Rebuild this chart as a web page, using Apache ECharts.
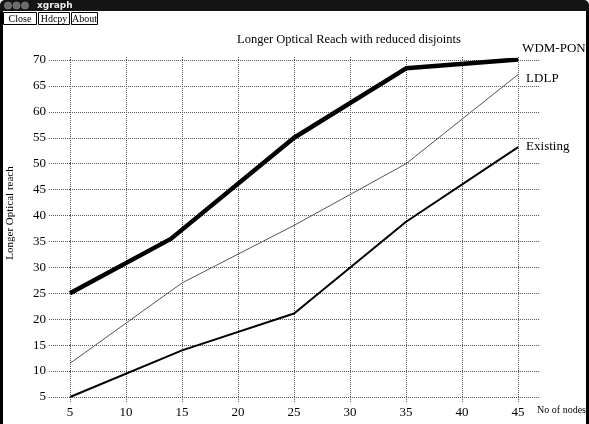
<!DOCTYPE html>
<html>
<head>
<meta charset="utf-8">
<script src="https://cdn.jsdelivr.net/npm/echarts@6/dist/echarts.min.js"></script>
<style>html,body{margin:0;padding:0;background:#fff;}#c{width:589px;height:424px;}</style>
</head>
<body>
<div id="c"></div>
<script>
const xValues = [5, 15, 25, 35, 45];
const wdmX = [5, 14, 25, 35, 45];
const wdmPon = [25, 35.5, 55, 68.4, 70.1];
const ldlp = [11.5, 27, 38.1, 50, 67.2];
const existing = [5, 14, 21.1, 38.8, 53.2];
const seriesNames = ['WDM-PON', 'LDLP', 'Existing'];
const titleText = 'Longer Optical Reach with reduced disjoints';
const xName = 'No of nodes';
const yName = 'Longer Optical reach';

const serif = 'Liberation Serif';
const dotted = { color: '#555', width: 1, type: [1, 1] };

const chart = echarts.init(document.getElementById('c'), null, { renderer: 'canvas' });

function pairs(xs, ys) { return xs.map((x, i) => [x, ys[i]]); }

const option = {
  backgroundColor: '#fff',
  animation: false,
  title: {
    text: titleText,
    left: 232,
    top: 28,
    textStyle: { fontFamily: serif, fontSize: 12.5, fontWeight: 'normal', color: '#000' }
  },
  grid: { left: 70, right: 69, top: 60, bottom: 27, containLabel: false },
  xAxis: [
    {
      type: 'value', min: 5, max: 45, interval: 5, position: 'bottom',
      axisLine: { show: false },
      axisTick: { show: true, length: 6, lineStyle: dotted },
      splitLine: { show: true, lineStyle: dotted },
      axisLabel: { margin: 9, fontFamily: serif, fontSize: 13, color: '#000' },
      name: xName, nameLocation: 'end', nameGap: 19,
      nameTextStyle: { fontFamily: serif, fontSize: 10, color: '#000', verticalAlign: 'top', padding: [8, 0, 0, 0] }
    },
    {
      type: 'value', min: 5, max: 45, interval: 5, position: 'top',
      axisLine: { show: false },
      axisTick: { show: true, length: 3, lineStyle: dotted },
      splitLine: { show: false },
      axisLabel: { show: false }
    }
  ],
  yAxis: [
    {
      type: 'value', min: 5, max: 70, interval: 5, position: 'left',
      axisLine: { show: false },
      axisTick: { show: true, length: 22, lineStyle: dotted },
      splitLine: { show: true, lineStyle: dotted },
      axisLabel: { margin: 24, fontFamily: serif, fontSize: 13, color: '#000' }
    },
    {
      type: 'value', min: 5, max: 70, interval: 5, position: 'right',
      axisLine: { show: false },
      axisTick: { show: true, length: 22, lineStyle: dotted },
      splitLine: { show: false },
      axisLabel: { show: false }
    }
  ],
  series: [
    {
      name: seriesNames[0], type: 'line', data: pairs(wdmX, wdmPon),
      showSymbol: false, symbol: 'none',
      lineStyle: { color: '#000', width: 4.5 }, itemStyle: { color: '#000' },
      endLabel: { show: true, formatter: '{a}', fontFamily: serif, fontSize: 13, color: '#000', offset: [-4, -11] }
    },
    {
      name: seriesNames[1], type: 'line', data: pairs(xValues, ldlp),
      showSymbol: false, symbol: 'none',
      lineStyle: { color: '#555', width: 1 }, itemStyle: { color: '#555' },
      endLabel: { show: true, formatter: '{a}', fontFamily: serif, fontSize: 13, color: '#000', offset: [0, 4] }
    },
    {
      name: seriesNames[2], type: 'line', data: pairs(xValues, existing),
      showSymbol: false, symbol: 'none',
      lineStyle: { color: '#000', width: 2 }, itemStyle: { color: '#000' },
      endLabel: { show: true, formatter: '{a}', fontFamily: serif, fontSize: 13, color: '#000', offset: [0, -1] }
    }
  ],
  graphic: [
    { type: 'rect', shape: { x: 0, y: 0, width: 589, height: 11, r: [5, 5, 0, 0] }, style: { fill: '#141414' }, z: 10 },
    { type: 'circle', shape: { cx: 8, cy: 5.5, r: 3.6 }, style: { fill: '#6a6a6a', stroke: '#999', lineWidth: 0.5 }, z: 11 },
    { type: 'circle', shape: { cx: 16.5, cy: 5.5, r: 3.6 }, style: { fill: '#6a6a6a', stroke: '#999', lineWidth: 0.5 }, z: 11 },
    { type: 'circle', shape: { cx: 25, cy: 5.5, r: 3.6 }, style: { fill: '#6a6a6a', stroke: '#999', lineWidth: 0.5 }, z: 11 },
    { type: 'text', x: 37, y: 6, style: { text: 'xgraph', fill: '#eee', font: 'bold 9px "DejaVu Sans"', textVerticalAlign: 'middle' }, z: 11 },
    { type: 'rect', shape: { x: 0, y: 11, width: 3, height: 413 }, style: { fill: '#000' }, z: 10 },
    { type: 'rect', shape: { x: 586, y: 11, width: 3, height: 413 }, style: { fill: '#000' }, z: 10 },
    { type: 'rect', shape: { x: 3.5, y: 12.5, width: 33, height: 12 }, style: { fill: '#fff', stroke: '#000', lineWidth: 1 }, z: 10 },
    { type: 'text', x: 20, y: 19, style: { text: 'Close', fill: '#000', font: '10px "Liberation Serif"', textAlign: 'center', textVerticalAlign: 'middle' }, z: 11 },
    { type: 'rect', shape: { x: 38.5, y: 12.5, width: 31, height: 12 }, style: { fill: '#fff', stroke: '#000', lineWidth: 1 }, z: 10 },
    { type: 'text', x: 54, y: 19, style: { text: 'Hdcpy', fill: '#000', font: '10px "Liberation Serif"', textAlign: 'center', textVerticalAlign: 'middle' }, z: 11 },
    { type: 'rect', shape: { x: 71.5, y: 12.5, width: 26, height: 12 }, style: { fill: '#fff', stroke: '#000', lineWidth: 1 }, z: 10 },
    { type: 'text', x: 84.5, y: 19, style: { text: 'About', fill: '#000', font: '10px "Liberation Serif"', textAlign: 'center', textVerticalAlign: 'middle' }, z: 11 },
    { type: 'text', x: 10, y: 213, rotation: Math.PI / 2, style: { text: yName, fill: '#000', font: '11px "Liberation Serif"', textAlign: 'center', textVerticalAlign: 'middle' }, z: 11 }
  ]
};
chart.setOption(option);
</script>
</body>
</html>
